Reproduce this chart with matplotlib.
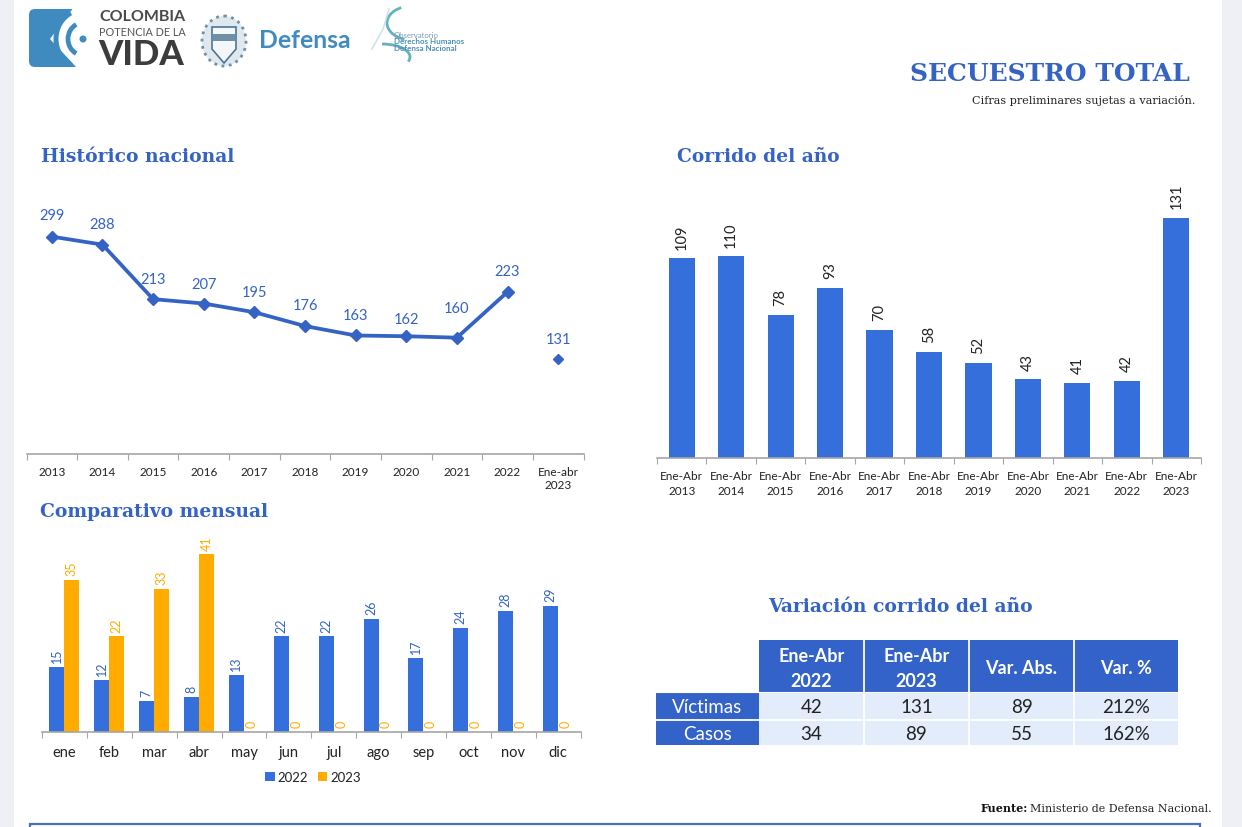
import numpy as np
import matplotlib
matplotlib.use('Agg')
import matplotlib.pyplot as plt
from matplotlib.patches import Rectangle, FancyBboxPatch, Arc, Ellipse, Polygon

W, H = 1242, 828
BLUE = '#356fdc'
TITLE = '#3463c4'
ORANGE = '#ffab00'
HEAD = '#3362c8'
CELL = '#e2ecfa'
TEXT = '#222222'
AXIS = '#a6a6a6'
SANS = 'Lato'
SERIF = 'DejaVu Serif'

# ── Datos ─────────────────────────────────────────────────────────────
hist_labels = ['2013', '2014', '2015', '2016', '2017', '2018', '2019', '2020',
               '2021', '2022', 'Ene-abr\n2023']
hist_values = [299, 288, 213, 207, 195, 176, 163, 162, 160, 223]
hist_last = [131]

corr_labels = ['Ene-Abr\n2013', 'Ene-Abr\n2014', 'Ene-Abr\n2015', 'Ene-Abr\n2016',
               'Ene-Abr\n2017', 'Ene-Abr\n2018', 'Ene-Abr\n2019', 'Ene-Abr\n2020',
               'Ene-Abr\n2021', 'Ene-Abr\n2022', 'Ene-Abr\n2023']
corr_values = [109, 110, 78, 93, 70, 58, 52, 43, 41, 42, 131]

months = ['ene', 'feb', 'mar', 'abr', 'may', 'jun', 'jul', 'ago', 'sep', 'oct', 'nov', 'dic']
m2022 = [15, 12, 7, 8, 13, 22, 22, 26, 17, 24, 28, 29]
m2023 = [35, 22, 33, 41, 0, 0, 0, 0, 0, 0, 0, 0]

table_cols = ['Ene-Abr\n2022', 'Ene-Abr\n2023', 'Var. Abs.', 'Var. %']
table_rows = ['Víctimas', 'Casos']
table_vals = [['42', '131', '89', '212%'],
              ['34', '89', '55', '162%']]


def px_axes(fig, x0, y0, x1, y1):
    # caja en pixeles de la imagen (y hacia abajo)
    return fig.add_axes([x0 / W, 1 - y1 / H, (x1 - x0) / W, (y1 - y0) / H])


def style_axis(ax, n, pad):
    ax.set_xlim(0, n)
    ax.set_xticks(np.arange(n + 1))
    ax.set_xticklabels([])
    ax.set_xticks(np.arange(n) + 0.5, minor=True)
    ax.set_yticks([])
    for s in ('top', 'left', 'right'):
        ax.spines[s].set_visible(False)
    ax.spines['bottom'].set_color(AXIS)
    ax.spines['bottom'].set_linewidth(1.2)
    ax.tick_params(axis='x', which='major', color=AXIS, length=4, direction='out')
    ax.tick_params(axis='x', which='minor', length=0, labelcolor=TEXT, pad=pad)
    ax.patch.set_alpha(0)


fig = plt.figure(figsize=(W / 100, H / 100), dpi=100, facecolor='white')

# ── Fondo, cabecera y textos ──────────────────────────────────────────
bg = fig.add_axes([0, 0, 1, 1])
bg.set_xlim(0, W)
bg.set_ylim(H, 0)
bg.axis('off')
bg.add_patch(Rectangle((0, 0), 14, H, color='#eef0f6', lw=0))
bg.add_patch(Rectangle((1222, 0), 20, H, color='#eef0f6', lw=0))
bg.add_patch(Rectangle((30, 825.5), 1170, 10, fc='white', ec='#4a6fbe', lw=1.6))

# logo Colombia
LOGO = '#3f8abf'
bg.add_patch(FancyBboxPatch((32, 13), 45, 52, boxstyle='round,pad=3,rounding_size=6', fc=LOGO, ec='none'))
bg.add_patch(Polygon([(84, 8), (84, 70), (78, 70), (50, 40), (74, 8)], fc='white', ec='none'))
for d, lw in ((54, 3.6), (30, 3.4)):
    bg.add_patch(Arc((83, 40), d, d * 1.08, theta1=115, theta2=245, color=LOGO, lw=lw))
bg.add_patch(Ellipse((83, 40), 7, 7, color=LOGO, lw=0))
bg.text(99, 17, 'COLOMBIA', family=SANS, weight='bold', size=11.5, color='#4a4a4a', va='center')
bg.text(99, 32, 'POTENCIA DE LA', family=SANS, size=7.8, color='#555555', va='center')
bg.text(98, 55, 'VIDA', family=SANS, weight='black', size=25, color='#3c3c3c', va='center')

# escudo
bg.add_patch(Ellipse((224, 42), 44, 50, fc='#dfe8ee', ec='#6f8fa6', lw=2, ls=':'))
bg.add_patch(Polygon([(212, 28), (236, 28), (236, 50), (224, 64), (212, 50)],
                     fc='#f4f7f9', ec='#4f7590', lw=1.2))
bg.add_patch(Rectangle((213, 35), 22, 7, fc='#6f8fa6', lw=0))
bg.text(259, 41, 'Defensa', family=SANS, weight='bold', size=17.8, color=LOGO, va='center')

# observatorio
bg.add_patch(Arc((412, 24), 50, 34, theta1=115, theta2=235, color='#62b3bd', lw=2))
bg.add_patch(Arc((382, 58), 56, 26, theta1=-90, theta2=10, color='#62b3bd', lw=2))
bg.plot([389, 383, 372], [10, 30, 50], color='#cfe4e8', lw=1.2)
bg.text(394, 35, 'Observatorio', family=SANS, size=5.6, color='#7a9bb0', va='center')
bg.text(394, 42, 'Derechos Humanos', family=SANS, weight='bold', size=5.8, color='#4f8fb5', va='center')
bg.text(394, 48.5, 'Defensa Nacional', family=SANS, weight='bold', size=5.8, color='#4f8fb5', va='center')

# títulos
bg.text(1190, 74, 'SECUESTRO TOTAL', family=SERIF, weight='bold', size=18, color=TITLE,
        ha='right', va='center')
bg.text(1195, 100, 'Cifras preliminares sujetas a variación.', family=SERIF, size=8.1, color='#222222',
        ha='right', va='center')
bg.text(41, 157, 'Histórico nacional', family=SERIF, weight='bold', size=13.5, color=TITLE, va='center')
bg.text(677, 157, 'Corrido del año', family=SERIF, weight='bold', size=13.4, color=TITLE, va='center')
bg.text(40, 512, 'Comparativo mensual', family=SERIF, weight='bold', size=13.5, color=TITLE, va='center')
bg.text(900, 607, 'Variación corrido del año', family=SERIF, weight='bold', size=13.5, color=TITLE,
        ha='center', va='center')
bg.text(1212, 809, 'Ministerio de Defensa Nacional.', family=SERIF, size=8, color='#222222',
        ha='right', va='center')
bg.text(1028, 809, 'Fuente:', family=SERIF, weight='bold', size=8, color='#111111', ha='right', va='center')

# ── Histórico nacional ────────────────────────────────────────────────
ax = px_axes(fig, 26.5, 190, 583.5, 455)
style_axis(ax, 11, 9)
ax.set_xticklabels(hist_labels, minor=True, family=SANS, size=8.5)
ax.set_ylim(0, 265 / 0.727)
xh = np.arange(len(hist_values)) + 0.5
ax.plot(xh, hist_values, color=TITLE, lw=2.7, marker='D', ms=6.5, clip_on=False)
ax.plot([10.5], hist_last, ls='', color=TITLE, marker='D', ms=5.5)
lab_off = [22, 21, 20, 20, 20, 21, 20, 17, 30, 21]
for x, v, o in zip(xh, hist_values, lab_off):
    ax.annotate(str(v), (x, v), xytext=(0, o * 0.72), textcoords='offset points', ha='center',
                va='center', family=SANS, size=10.5, color=TITLE)
ax.annotate(str(hist_last[0]), (10.5, hist_last[0]), xytext=(0, 14), textcoords='offset points',
            ha='center', va='center', family=SANS, size=10.5, color=TITLE)

# ── Corrido del año ───────────────────────────────────────────────────
ax = px_axes(fig, 657, 181, 1201, 459)
style_axis(ax, 11, 9)
ax.set_xticklabels(corr_labels, minor=True, family=SANS, size=8.5, linespacing=1.35)
ax.set_ylim(0, 278 / 1.832)
xc = np.arange(len(corr_values)) + 0.5
ax.bar(xc, corr_values, width=0.53, color=BLUE)
for x, v in zip(xc, corr_values):
    ax.annotate(str(v), (x, v), xytext=(0, 7), textcoords='offset points', ha='center', va='bottom',
                rotation=90, family=SANS, size=10.5, color=TEXT)

# ── Comparativo mensual ───────────────────────────────────────────────
ax = px_axes(fig, 42, 525.5, 580.5, 732.5)
style_axis(ax, 12, 10)
ax.set_xticklabels(months, minor=True, family=SANS, size=10.5)
ax.set_ylim(0, 207 / 4.32)
xm = np.arange(len(months)) + 0.5
bw = 0.335
b1 = ax.bar(xm - bw / 2, m2022, width=bw, color=BLUE, label='2022')
b2 = ax.bar(xm + bw / 2, m2023, width=bw, color=ORANGE, label='2023')
for x, v in zip(xm - bw / 2, m2022):
    ax.annotate(str(v), (x, v), xytext=(0, 3.5), textcoords='offset points', ha='center', va='bottom',
                rotation=90, family=SANS, size=9, color=TITLE)
for x, v in zip(xm + bw / 2, m2023):
    ax.annotate(str(v), (x, v), xytext=(0, 3.5), textcoords='offset points', ha='center', va='bottom',
                rotation=90, family=SANS, size=9, color=ORANGE)
fig.legend(handles=[b1, b2], loc='center', bbox_to_anchor=(313 / W, 1 - 778 / H), ncol=2, frameon=False,
           prop={'family': SANS, 'size': 9.5}, handlelength=0.7, handleheight=0.7,
           handletextpad=0.25, columnspacing=0.7, labelcolor=TEXT)

# ── Tabla ─────────────────────────────────────────────────────────────
col_x = [759, 864, 969, 1074, 1178]
row_y = [693, 721, 746]
bg.add_patch(Rectangle((759, 641), 419, 52, color=HEAD, lw=0))
bg.add_patch(Rectangle((656, 693), 103, 53, color=HEAD, lw=0))
bg.add_patch(Rectangle((759, 693), 419, 53, color=CELL, lw=0))
for x in col_x[1:-1]:
    bg.plot([x, x], [641, 746], color='white', lw=1.3)
bg.plot([656, 1178], [721, 721], color='white', lw=1.3)
bg.plot([656, 1178], [693, 693], color='white', lw=0.8)
for i, c in enumerate(table_cols):
    cx = (col_x[i] + col_x[i + 1]) / 2
    bg.text(cx, 669, c, family=SANS, weight='bold', size=13, color='white', ha='center', va='center',
            linespacing=1.55)
for j, r in enumerate(table_rows):
    cy = (row_y[j] + row_y[j + 1]) / 2 + 1
    bg.text(707, cy, r, family=SANS, size=13.5, color='white', ha='center', va='center')
    for i, v in enumerate(table_vals[j]):
        bg.text((col_x[i] + col_x[i + 1]) / 2, cy, v, family=SANS, size=13.5, color=TEXT,
                ha='center', va='center')

plt.savefig('out.png', dpi=100)
